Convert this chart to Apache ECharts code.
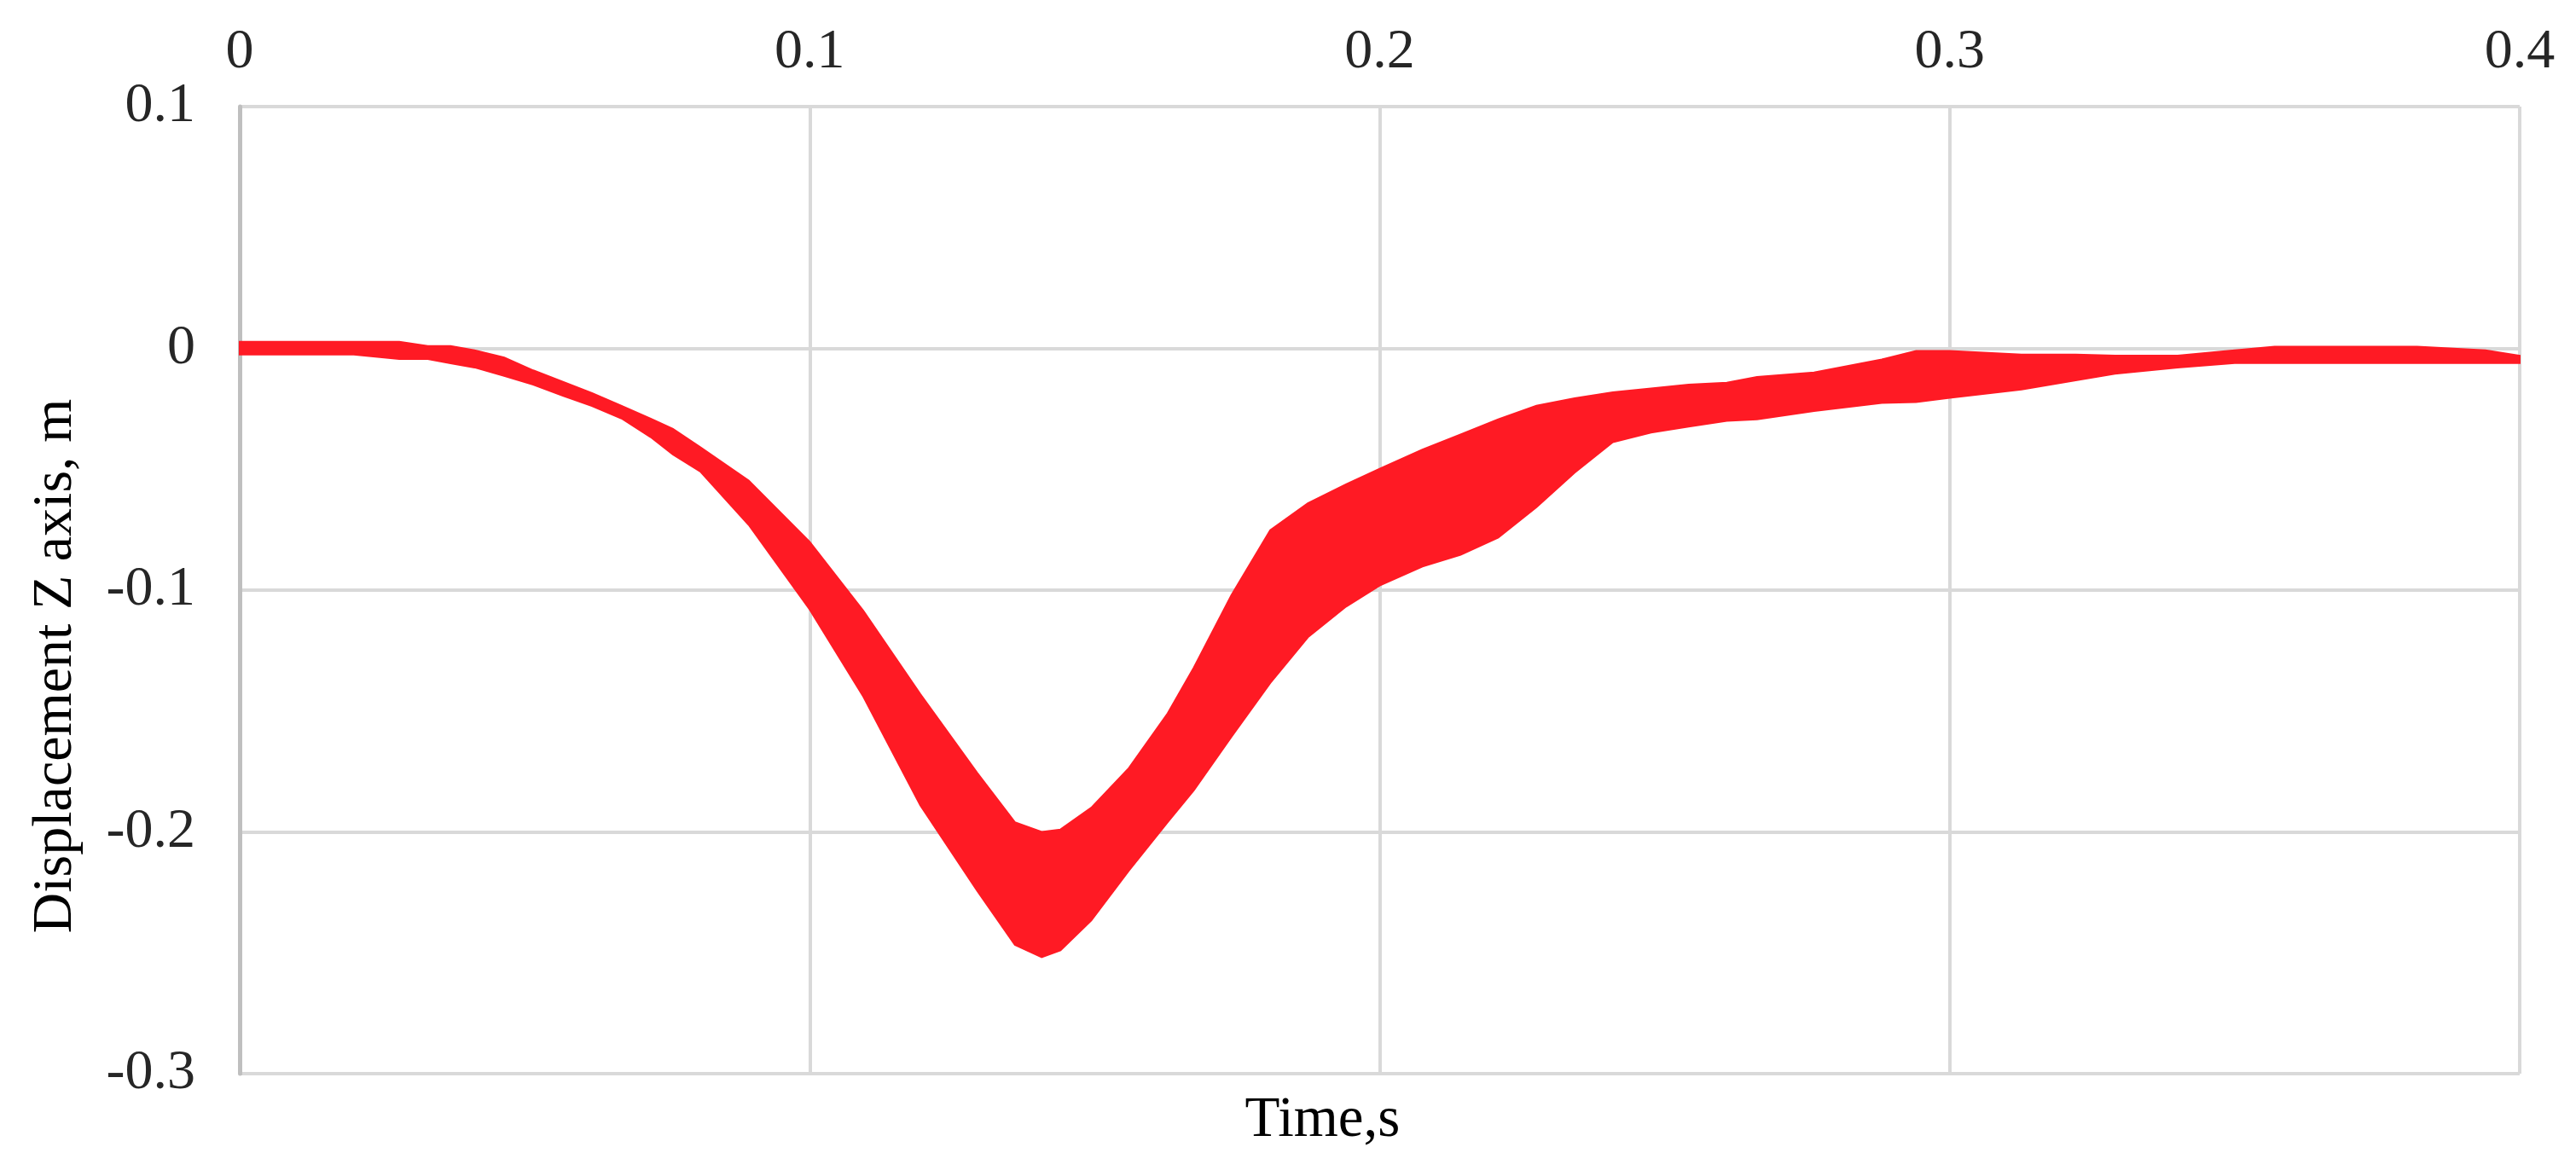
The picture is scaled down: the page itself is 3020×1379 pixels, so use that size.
<!DOCTYPE html>
<html>
<head>
<meta charset="utf-8">
<script src="https://cdn.jsdelivr.net/npm/echarts@6/dist/echarts.min.js"></script>
<style>
  html, body { margin: 0; padding: 0; background: #fff; }
  #chart { width: 3020px; height: 1379px; }
</style>
</head>
<body>
<div id="chart"></div>
<script>
// time, s
var timeValues = [0, 0.01, 0.02, 0.028, 0.033, 0.037, 0.0412, 0.0464, 0.0515, 0.0567, 0.0618, 0.067, 0.0721, 0.076, 0.0808,
  0.0893, 0.1, 0.1094, 0.1194, 0.1294, 0.136, 0.1407, 0.144, 0.1494, 0.156, 0.1628, 0.1674, 0.174, 0.1808, 0.1874,
  0.1941, 0.2, 0.2075, 0.2142, 0.2208, 0.2275, 0.2342, 0.2409, 0.2476, 0.2542, 0.2609, 0.2662, 0.2762, 0.2881,
  0.2941, 0.3, 0.3126, 0.3221, 0.329, 0.34, 0.35, 0.357, 0.382, 0.394, 0.4]
// upper edge of the displacement band, m
var upperValues = [0.0027, 0.0027, 0.0027, 0.0027, 0.001, 0.001, -0.0008, -0.0038, -0.0091, -0.0138, -0.0185, -0.0238, -0.0291, -0.0333, -0.0409,
  -0.0547, -0.08, -0.1085, -0.143, -0.1756, -0.196, -0.2, -0.199, -0.19, -0.1736, -0.151, -0.132, -0.102, -0.0752, -0.0641,
  -0.0562, -0.0498, -0.0419, -0.0356, -0.0293, -0.0237, -0.0206, -0.0182, -0.0166, -0.015, -0.0142, -0.0118, -0.01, -0.0046,
  -0.0011, -0.0011, -0.0026, -0.0026, -0.003, -0.003, -0.0008, 0.0007, 0.0007, -0.0008, -0.003]
// lower edge of the displacement band, m
var lowerValues = [-0.0026, -0.0026, -0.0026, -0.0044, -0.0044, -0.0062, -0.0079, -0.0114, -0.015, -0.0196, -0.0238, -0.029, -0.0367, -0.0439, -0.0509,
  -0.073, -0.108, -0.144, -0.189, -0.2244, -0.2467, -0.2518, -0.249, -0.2366, -0.216, -0.196, -0.1828, -0.1606, -0.1384, -0.1195,
  -0.1068, -0.0981, -0.0902, -0.0854, -0.0783, -0.0657, -0.0514, -0.0388, -0.0348, -0.0324, -0.03, -0.0294, -0.0259, -0.0226,
  -0.0222, -0.0205, -0.017, -0.0132, -0.0105, -0.0079, -0.0061, -0.0061, -0.0061, -0.0061, -0.0061]

var timeTicks = [0, 0.4, 0.1]      // min, max, step
var dispTicks = [-0.3, 0.1, 0.1]   // min, max, step

var bandColor = '#ff1a24'
var fontFamily = '"Liberation Serif", "Times New Roman", serif'

var bandData = timeValues.map(function (t, i) { return [t, upperValues[i], lowerValues[i]] })

// whole band as one polygon: upper edge forward, lower edge back
function renderBand(params, api) {
  if (params.dataIndex !== 0) return
  var pts = []
  for (var i = 0; i < timeValues.length; i++) {
    pts.push(api.coord([timeValues[i], upperValues[i]]))
  }
  for (var j = timeValues.length - 1; j >= 0; j--) {
    pts.push(api.coord([timeValues[j], lowerValues[j]]))
  }
  return {
    type: 'polygon',
    shape: { points: pts },
    style: { fill: bandColor, stroke: bandColor, lineWidth: 2 },
  }
}

var chart = echarts.init(document.getElementById('chart'))
chart.setOption({
  animation: false,
  grid: {
    left: 281,
    right: 66,
    top: 125,
    bottom: 120,
  },
  xAxis: [
    {
      type: 'value',
      position: 'top',
      min: timeTicks[0],
      max: timeTicks[1],
      interval: timeTicks[2],
      axisLine: { show: false, onZero: false },
      axisTick: { show: false },
      axisLabel: {
        fontFamily: fontFamily,
        fontSize: 66,
        color: '#262626',
        margin: 30,
      },
      splitLine: {
        lineStyle: { color: '#d9d9d9', width: 4 },
      },
    },
    {
      // only carries the bottom title
      type: 'value',
      position: 'bottom',
      min: timeTicks[0],
      max: timeTicks[1],
      axisLine: { show: false, onZero: false },
      axisTick: { show: false },
      axisLabel: { show: false },
      splitLine: { show: false },
      name: 'Time,s',
      nameLocation: 'middle',
      nameGap: 22,
      nameTextStyle: {
        fontFamily: fontFamily,
        fontSize: 67,
        color: '#000',
        padding: [0, 134, 0, 0],
      },
    },
  ],
  yAxis: {
    type: 'value',
    min: dispTicks[0],
    max: dispTicks[1],
    interval: dispTicks[2],
    axisLine: {
      show: true,
      onZero: false,
      lineStyle: { color: '#bfbfbf', width: 5 },
    },
    axisTick: { show: false },
    axisLabel: {
      fontFamily: fontFamily,
      fontSize: 66,
      color: '#262626',
      margin: 52,
    },
    splitLine: {
      lineStyle: { color: '#d9d9d9', width: 4 },
    },
    name: 'Displacement Z axis, m',
    nameLocation: 'middle',
    nameRotate: 90,
    nameGap: 182,
    nameTextStyle: {
      fontFamily: fontFamily,
      fontSize: 66,
      color: '#000',
      // title sits below the plot middle
      padding: [0, 178, 0, 0],
    },
  },
  series: [
    {
      type: 'custom',
      xAxisIndex: 0,
      data: bandData,
      encode: { x: 0, y: [1, 2] },
      renderItem: renderBand,
    },
  ],
})
</script>
</body>
</html>
